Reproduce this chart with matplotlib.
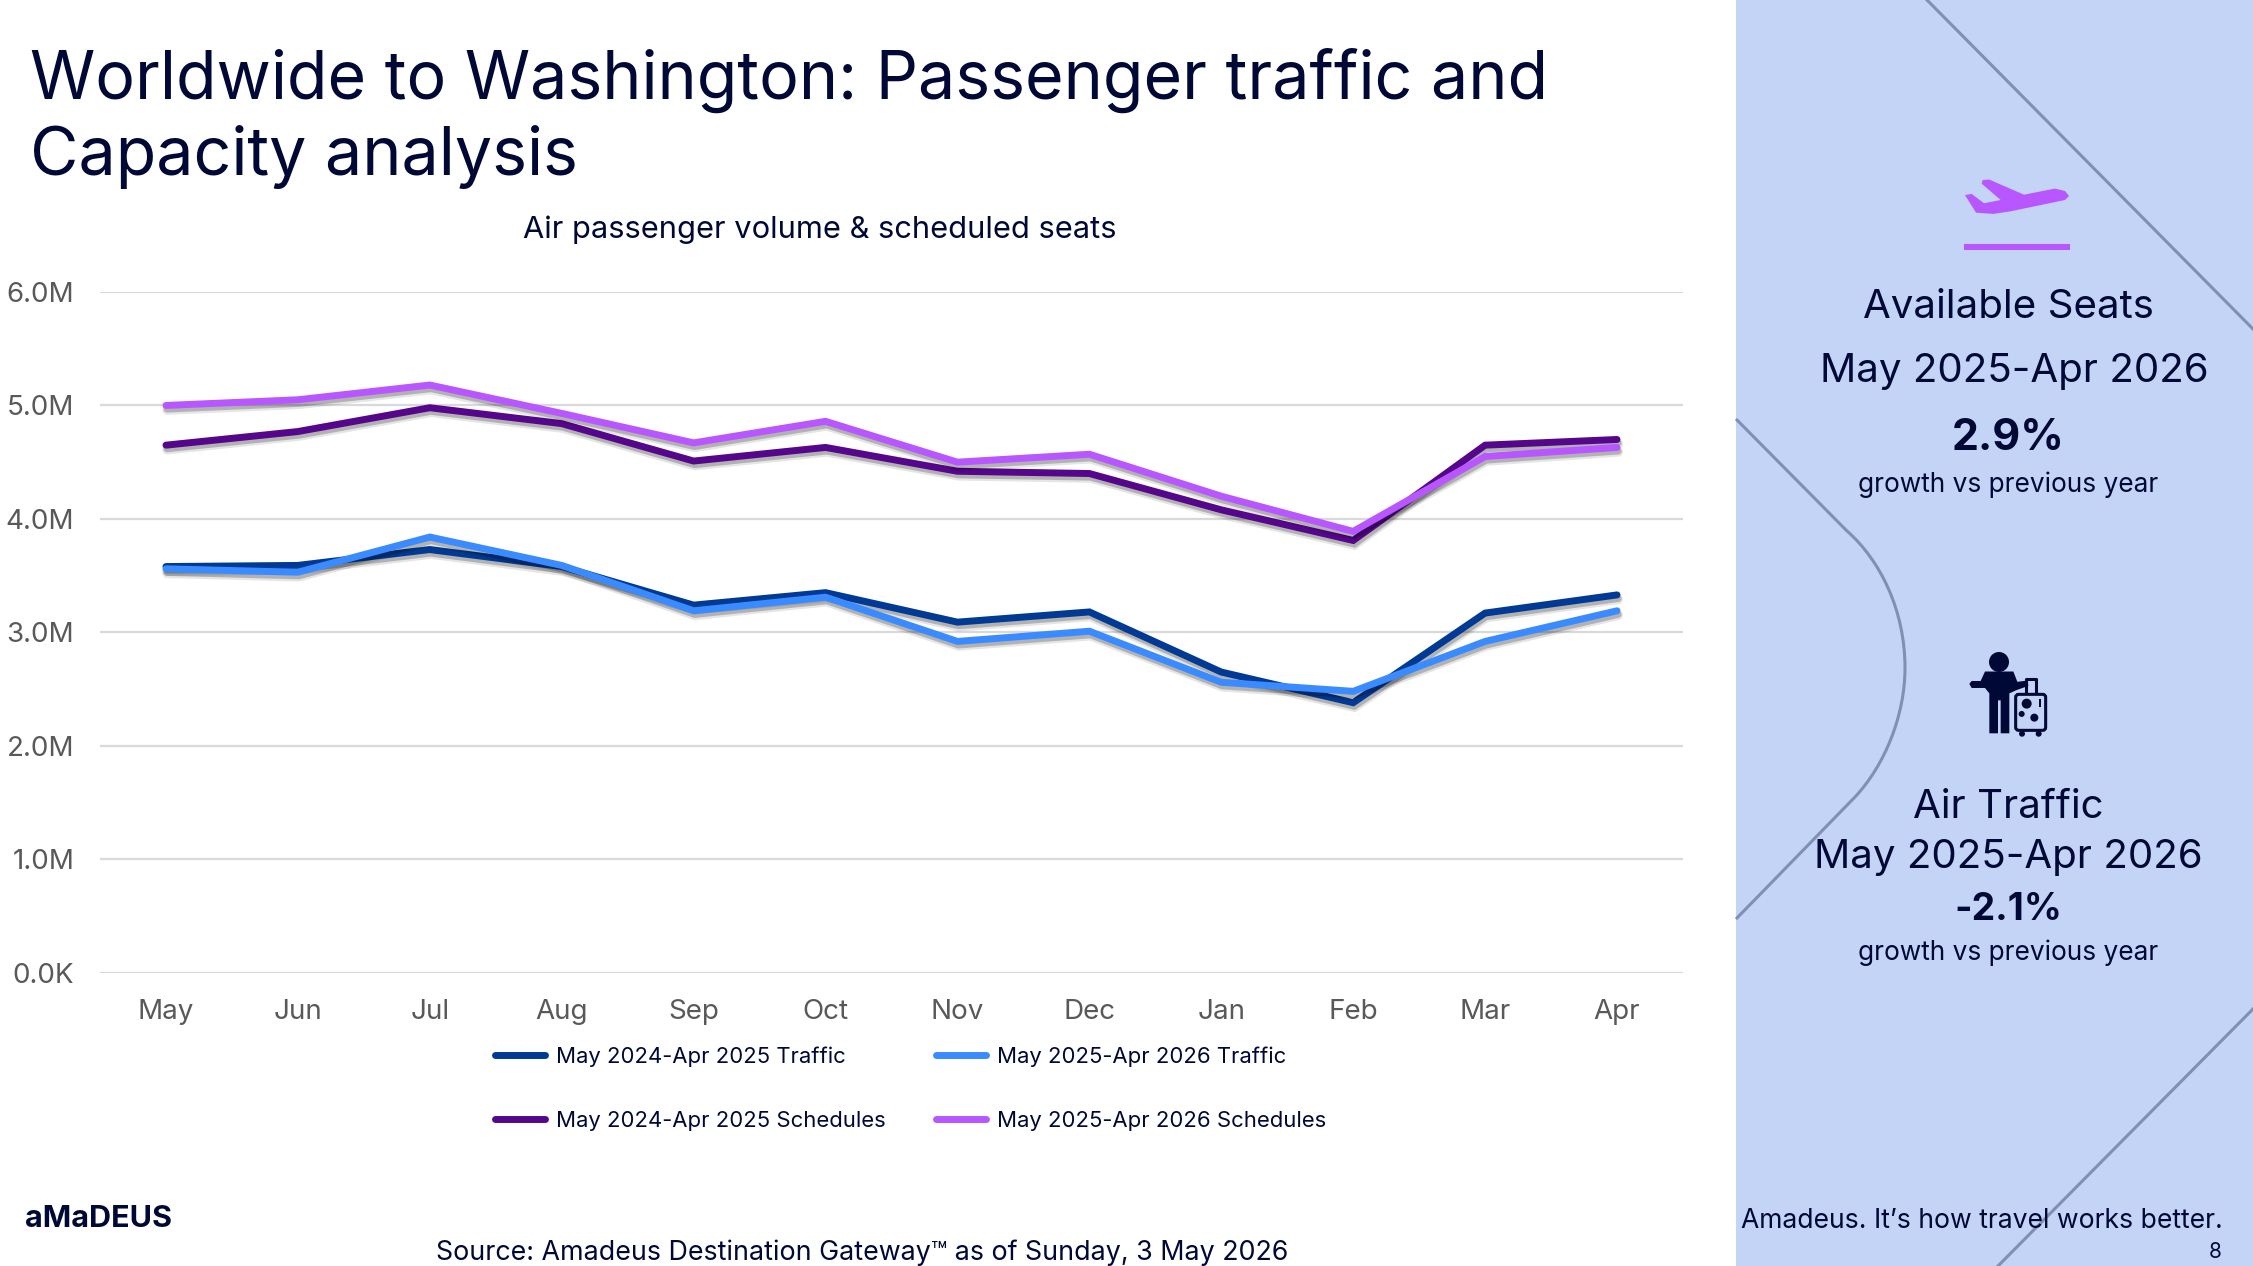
import matplotlib
matplotlib.use("Agg")
import matplotlib.pyplot as plt
import matplotlib.patheffects as pe
from matplotlib.path import Path
from matplotlib.patches import PathPatch, Polygon, Circle, Rectangle, FancyBboxPatch

W, H = 2253, 1266
plt.rcParams['font.family'] = ['Inter', 'DejaVu Sans']

months = ['May', 'Jun', 'Jul', 'Aug', 'Sep', 'Oct', 'Nov', 'Dec', 'Jan', 'Feb', 'Mar', 'Apr']
traffic_24 = [3.58, 3.59, 3.73, 3.58, 3.24, 3.35, 3.09, 3.18, 2.65, 2.38, 3.17, 3.33]
traffic_25 = [3.56, 3.53, 3.84, 3.59, 3.19, 3.31, 2.92, 3.01, 2.56, 2.48, 2.92, 3.19]
sched_24 = [4.65, 4.77, 4.98, 4.84, 4.51, 4.63, 4.42, 4.40, 4.08, 3.81, 4.65, 4.70]
sched_25 = [5.00, 5.05, 5.18, 4.93, 4.67, 4.86, 4.50, 4.57, 4.20, 3.89, 4.55, 4.63]
y_ticks = [0, 1, 2, 3, 4, 5, 6]
y_labels = ['0.0K', '1.0M', '2.0M', '3.0M', '4.0M', '5.0M', '6.0M']

NAVY = '#000835'
LINE = '#8090B4'
PURPLE = '#B857FF'

fig = plt.figure(figsize=(W / 100, H / 100), dpi=100, facecolor='white')

# background layer in pixel coords, for the panel, icons and slide text
bg = fig.add_axes([0, 0, 1, 1])
bg.set_xlim(0, W)
bg.set_ylim(H, 0)
bg.axis('off')
bg.add_patch(Rectangle((1736, 0), W - 1736, H, color='#C4D4F7', lw=0))

bg.plot([1927, 2253], [0, 329], color=LINE, lw=2.2)
bg.plot([1998, 2253], [1266, 1009], color=LINE, lw=2.2)
verts = [(1736, 419), (1847, 531), (1880, 560), (1905, 610), (1905, 668), (1905, 715), (1885, 765), (1855, 797), (1736, 919)]
codes = [Path.MOVETO, Path.LINETO, Path.CURVE4, Path.CURVE4, Path.CURVE4, Path.CURVE4, Path.CURVE4, Path.CURVE4, Path.LINETO]
bg.add_patch(PathPatch(Path(verts, codes), fc='none', ec=LINE, lw=2.2))


def z1(pts):
    return [(x / 3 + 1730, y / 2.45) for x, y in pts]


def z2(pts):
    return [(x / 3 + 1730, y / 2.427 + 620) for x, y in pts]


# plane icon
plane = [(705, 478), (725, 475), (762, 498), (812, 490), (755, 450), (758, 441), (778, 440), (882, 477), (975, 462),
         (1005, 468), (1017, 480), (1005, 490), (840, 518), (790, 524), (738, 521)]
bg.add_patch(Polygon(z1(plane), closed=True, color=PURPLE, lw=0))
bg.add_patch(Rectangle((1964, 244), 106, 6, color=PURPLE, lw=0))

# traveller icon
bg.add_patch(Circle((1999, 662), 10, color=NAVY, lw=0))
body = [(765, 125), (850, 125), (862, 150), (893, 147), (895, 160), (860, 170), (838, 178), (838, 275), (812, 275),
        (812, 195), (804, 195), (804, 275), (778, 275), (778, 178), (765, 165), (725, 165), (718, 155), (725, 148), (752, 148)]
bg.add_patch(Polygon(z2(body), closed=True, color=NAVY, lw=0))
(cx, cy) = z2([(854, 178)])[0]
bg.add_patch(FancyBboxPatch((cx + 1, cy + 1), 30, 36, boxstyle='round,pad=0,rounding_size=3', fc='none', ec=NAVY, lw=2.2))
bg.plot(*zip(*z2([(888, 175), (888, 143), (917, 143), (917, 175)])), color=NAVY, lw=2.2)
for x, y, r in [(890, 203, 5), (875, 228, 3), (913, 237, 4)]:
    bg.add_patch(Circle(z2([(x, y)])[0], r, color=NAVY, lw=0))
bg.add_patch(Rectangle(z2([(926, 192)])[0], 2.5, 8, color=NAVY, lw=0))
for x in (876, 926):
    bg.add_patch(Circle(z2([(x, 276)])[0], 3, color=NAVY, lw=0))

bg.text(30, 80, 'Worldwide to Washington: Passenger traffic and', fontsize=47.7, color=NAVY, va='center')
bg.text(30, 157, 'Capacity analysis', fontsize=47.7, color=NAVY, va='center')
bg.text(820, 230, 'Air passenger volume & scheduled seats', fontsize=22.2, color=NAVY, ha='center', va='center')
bg.text(862, 1253, 'Source: Amadeus Destination Gateway™ as of Sunday, 3 May 2026', fontsize=19.3, color=NAVY, ha='center', va='center')
bg.text(25, 1219, 'aMaDEUS', fontsize=22, fontweight='bold', color=NAVY, va='center')

bg.text(2008, 307, 'Available Seats', fontsize=29, color=NAVY, ha='center', va='center')
bg.text(2014, 372, 'May 2025-Apr 2026', fontsize=29, color=NAVY, ha='center', va='center')
bg.text(2008, 438, '2.9%', fontsize=31, fontweight='bold', color=NAVY, ha='center', va='center')
bg.text(2008, 485, 'growth vs previous year', fontsize=18.9, color=NAVY, ha='center', va='center')
bg.text(2008, 808, 'Air Traffic', fontsize=29, color=NAVY, ha='center', va='center')
bg.text(2008, 858, 'May 2025-Apr 2026', fontsize=29, color=NAVY, ha='center', va='center')
bg.text(2008, 910, '-2.1%', fontsize=27, fontweight='bold', color=NAVY, ha='center', va='center')
bg.text(2008, 953, 'growth vs previous year', fontsize=18.9, color=NAVY, ha='center', va='center')
bg.text(2223, 1221, 'Amadeus. It’s how travel works better.', fontsize=19.1, color=NAVY, ha='right', va='center')
bg.text(2222, 1252, '8', fontsize=15, color=NAVY, ha='right', va='center')

# chart
ax = fig.add_axes([100 / W, 1 - 972.7 / H, (1683 - 100) / W, (972.7 - 292) / H])
ax.patch.set_alpha(0)
shadow = [pe.SimpleLineShadow(offset=(0.8, -3.2), shadow_color='#000000', alpha=0.10, linewidth=7),
          pe.SimpleLineShadow(offset=(0.8, -2.6), shadow_color='#000000', alpha=0.22, linewidth=5),
          pe.Normal()]
series = [(traffic_24, '#003A94', 'May 2024-Apr 2025 Traffic'),
          (sched_24, '#55068A', 'May 2024-Apr 2025 Schedules'),
          (traffic_25, '#3A8BFF', 'May 2025-Apr 2026 Traffic'),
          (sched_25, PURPLE, 'May 2025-Apr 2026 Schedules')]
for values, color, label in series:
    line, = ax.plot(range(len(months)), values, color=color, lw=5, label=label,
                    solid_capstyle='round', solid_joinstyle='miter', path_effects=shadow)

ax.set_xlim(-0.5, 11.5)
ax.set_ylim(0, 6)
ax.set_xticks(range(len(months)))
ax.set_xticklabels(months)
ax.set_yticks(y_ticks)
ax.set_yticklabels(y_labels)
ax.tick_params(length=0, labelsize=20, labelcolor='#595959')
ax.tick_params(axis='x', pad=19)
ax.tick_params(axis='y', pad=18.5)
for s in ax.spines.values():
    s.set_visible(False)
ax.grid(axis='y', color='#D9D9D9', lw=1.6)
ax.set_axisbelow(True)

leg = ax.legend(ncol=2, loc='upper left', bbox_to_anchor=(0.2425, -0.0915), frameon=False, fontsize=15.9,
                handlelength=2.26, handletextpad=0.52, columnspacing=2.25, labelspacing=2.0, borderpad=0, labelcolor=NAVY)
for h in leg.get_lines():
    h.set_path_effects([])
    h.set_solid_capstyle('round')

fig.savefig('out.png', dpi=100)
